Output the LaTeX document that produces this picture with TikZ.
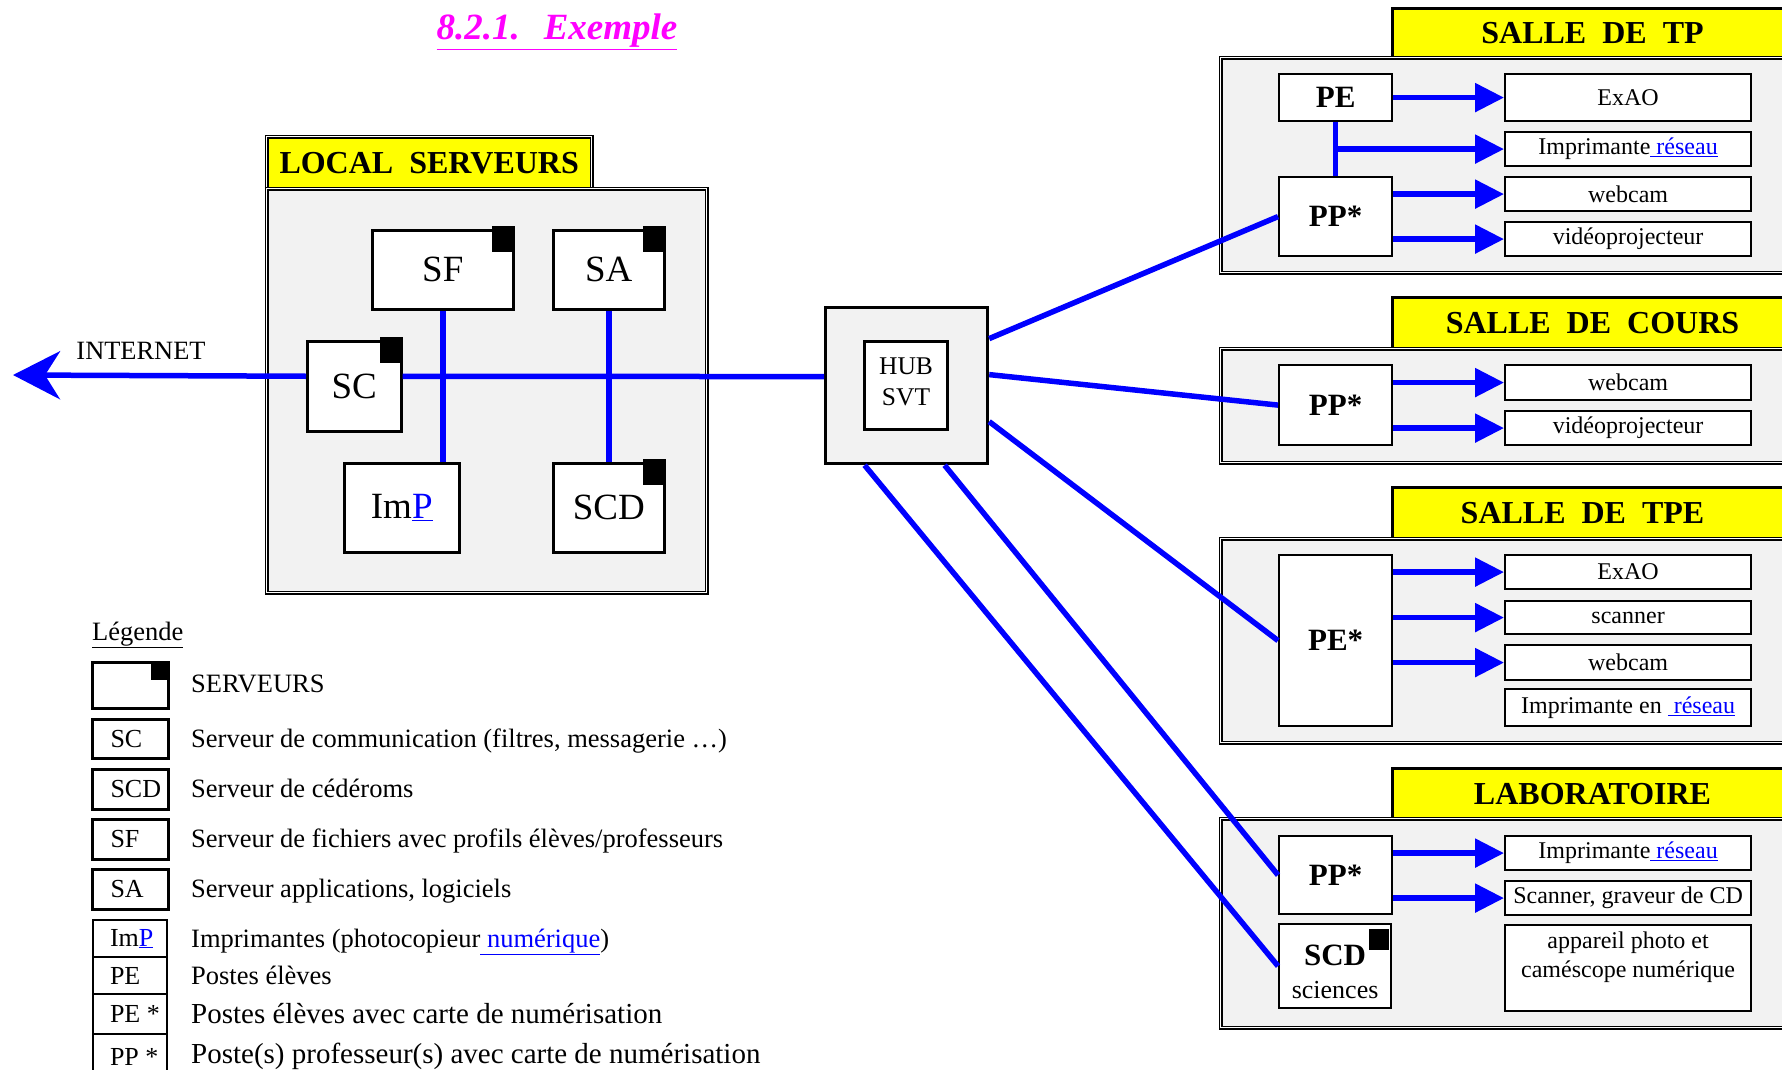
\documentclass[tikz,border=0pt]{standalone}
\usepackage{fontspec}
\setmainfont{Liberation Serif}
\usetikzlibrary{arrows.meta,positioning,calc}

\definecolor{mygray}{rgb}{0.949,0.949,0.949}
\definecolor{myyellow}{rgb}{1.0,1.0,0.0}
\definecolor{myblue}{rgb}{0.0,0.0,1.0}
\definecolor{mymagenta}{rgb}{1.0,0.0,1.0}
\newcommand{\LINEPT}{5.5pt}
\newcommand{\fsz}[1]{\fontsize{#1}{#1}\selectfont}
\newcommand{\lien}[1]{{\color{myblue}\underline{#1}}}
\newcommand{\lgl}[1]{\makebox[40pt][l]{#1}}
\newcommand{\srvtag}[1]{\fill ([yshift=3pt]#1.north east) rectangle ++(-23,26);}

\tikzset{
	bus/.style={draw=myblue, line width=\LINEPT},
	busarrow/.style={bus, -{Triangle[length=29pt,width=28pt]}},
	roomframe/.style={draw, fill=mygray, line width=1.4pt, double=white, double distance=1pt, anchor=north west, inner sep=0pt},
	header/.style={draw, fill=myyellow, line width=3pt, anchor=north west, inner sep=0pt, minimum width=400pt, font=\fsz{32}\bfseries},
	srv/.style={draw, fill=white, line width=2.5pt, anchor=north west, inner sep=0pt, font=\fsz{37}},
	poste/.style={draw, fill=white, line width=2.2pt, anchor=north west, inner sep=0pt, minimum width=113pt, font=\fsz{31}\bfseries},
	periph/.style={draw, fill=white, line width=2.2pt, anchor=north west, inner sep=0pt, minimum width=246pt, font=\fsz{24}},
	legbox/.style={draw, fill=white, line width=3pt, anchor=north west, inner sep=0pt, minimum width=76pt, font=\fsz{26}},
	legstack/.style={legbox, line width=2pt, minimum width=74pt},
	legtext/.style={anchor=base west, inner sep=0pt, font=\fsz{26.5}},
}

\begin{document}
\begin{tikzpicture}[x=1pt,y=-1pt]
	\useasboundingbox (0,0) rectangle (1782,1070);

	%% titre
	\node[anchor=base, font=\fsz{37}\bfseries\itshape, text=mymagenta] (titre) at (557,40) {\underline{8.2.1.\hspace{24pt}Exemple}};

	%% local serveurs
	\node[roomframe, fill=myyellow, minimum width=325pt, minimum height=52pt, font=\fsz{32}\bfseries] (lsHead) at (266,136) {LOCAL~~SERVEURS};
	\node[roomframe, minimum width=440pt, minimum height=404pt] (lsRoom) at (266,188) {};

	\node[srv, minimum width=141pt, minimum height=79pt] (SF) at (371,229) {SF};
	\node[srv, minimum width=111pt, minimum height=79pt] (SA) at (552,229) {SA};
	\node[srv, minimum width=94pt, minimum height=90pt] (SC) at (306,340) {SC};
	\node[srv, minimum width=115pt, minimum height=89pt] (ImP) at (343,462) {Im\lien{P}};
	\node[srv, minimum width=111pt, minimum height=89pt] (SCD) at (552,462) {SCD};
	\srvtag{SF} \srvtag{SA} \srvtag{SC} \srvtag{SCD}

	\coordinate (inet) at (13,375);
	\node[anchor=base, font=\fsz{26.4}] (inetText) at (141,359) {INTERNET};

	%% hub
	\node[draw, fill=mygray, line width=3.2pt, anchor=north west, minimum width=162pt, minimum height=156pt, inner sep=0pt] (hubO) at (824,306) {};
	\node[draw, fill=white, line width=3pt, anchor=north west, minimum width=83pt, minimum height=88pt, inner sep=0pt, align=center, font=\fontsize{25.5}{31}\selectfont] (hubI) at (863,340) {HUB\\SVT\rule[-8pt]{0pt}{0pt}};

	%% salle de TP
	\node[header, minimum height=50pt] (tpHead) at (1391,7) {SALLE~~DE~~TP};
	\node[roomframe, minimum width=580pt, minimum height=215pt] (tpRoom) at (1220,57) {};
	\node[poste, minimum height=47pt] (tpPE) at (1278,73) {PE};
	\node[poste, minimum height=79pt] (tpPP) at (1278,176) {PP*};
	\node[periph, minimum height=47pt] (tpExao) at (1504,73) {ExAO};
	\node[periph, minimum height=34pt] (tpImpr) at (1504,131) {Imprimante\lien{\ réseau}};
	\node[periph, minimum height=34pt] (tpWeb) at (1504,176) {webcam};
	\node[periph, minimum height=34pt] (tpVideo) at (1504,221) {vidéoprojecteur};

	%% salle de cours
	\node[header, minimum height=52pt] (crHead) at (1391,296) {SALLE~~DE~~COURS};
	\node[roomframe, minimum width=580pt, minimum height=114pt] (crRoom) at (1220,348) {};
	\node[poste, minimum height=80pt] (crPP) at (1278,364) {PP*};
	\node[periph, minimum height=35pt] (crWeb) at (1504,364) {webcam};
	\node[periph, minimum height=34pt] (crVideo) at (1504,410) {vidéoprojecteur};

	%% salle de TPE
	\node[header, minimum height=52pt] (tpeHead) at (1391,486) {SALLE~~DE~~TPE\hspace*{20pt}};
	\node[roomframe, minimum width=580pt, minimum height=204pt] (tpeRoom) at (1220,538) {};
	\node[poste, minimum height=171pt] (tpePE) at (1278,554) {PE*};
	\node[periph, minimum height=34pt] (tpeExao) at (1504,554) {ExAO};
	\node[periph, minimum height=33pt] (tpeScan) at (1504,600) {scanner};
	\node[periph, minimum height=35pt] (tpeWeb) at (1504,644) {webcam};
	\node[periph, minimum height=37pt] (tpeImpr) at (1504,688) {Imprimante en \lien{\ réseau}};

	%% laboratoire
	\node[header, minimum height=51pt] (labHead) at (1391,767) {LABORATOIRE};
	\node[roomframe, minimum width=580pt, minimum height=209pt] (labRoom) at (1220,818) {};
	\node[poste, minimum height=78pt] (labPP) at (1278,835) {PP*};
	\node[poste, minimum width=112pt, minimum height=84pt, align=center] (labSCD) at (1278,923) {\rule{0pt}{33pt}SCD\\[2pt]{\fsz{26}\mdseries sciences}};
	\fill ([xshift=-3pt,yshift=-6pt]labSCD.north east) rectangle ++(-20,21);
	\node[periph, minimum height=34pt] (labImpr) at (1504,835) {Imprimante\lien{\ réseau}};
	\node[periph, minimum height=34pt] (labScan) at (1504,880) {Scanner, graveur de CD};
	\node[periph, minimum height=86pt, label={[anchor=north, align=center, yshift=-4pt, font=\fontsize{24}{29}\selectfont]north:appareil photo et\\caméscope numérique}] (labPhoto) at (1504,924) {};

	%% liaisons
	\draw[bus] ([yshift=9pt]hubO.west) -- ([yshift=10pt]SC.east);
	\draw[bus,-{Stealth[length=47pt,width=48pt,inset=15pt]}] ([yshift=10pt]SC.west) -- (inet);
	\draw[bus] (SF.south) -- (SF.south |- ImP.north);
	\draw[bus] (SA.south) -- (SCD.north);

	\draw[bus] ([yshift=47pt]hubO.east) -- (tpPP.west);
	\draw[bus] ([yshift=11pt]hubO.east) -- (crPP.west);
	\draw[bus] ([yshift=-36pt]hubO.east) -- (tpePE.west);
	\draw[bus] ([xshift=38pt]hubO.south) -- (labPP.west);
	\draw[bus] ([xshift=-42pt]hubO.south) -- (labSCD.west);

	\draw[busarrow] (tpPE.east) -- (tpExao.west);
	\draw[bus] (tpPE.south) -- (tpPP.north);
	\draw[busarrow] (tpPE.south |- tpImpr.west) -- (tpImpr.west);
	\draw[busarrow] (tpPP.east |- tpWeb.west) -- (tpWeb.west);
	\draw[busarrow] (tpPP.east |- tpVideo.west) -- (tpVideo.west);

	\draw[busarrow] (crPP.east |- crWeb.west) -- (crWeb.west);
	\draw[busarrow] (crPP.east |- crVideo.west) -- (crVideo.west);

	\draw[busarrow] (tpePE.east |- tpeExao.west) -- (tpeExao.west);
	\draw[busarrow] (tpePE.east |- tpeScan.west) -- (tpeScan.west);
	\draw[busarrow] (tpePE.east |- tpeWeb.west) -- (tpeWeb.west);

	\draw[busarrow] (labPP.east |- labImpr.west) -- (labImpr.west);
	\draw[busarrow] (labPP.east |- labScan.west) -- (labScan.west);

	%% legende
	\node[anchor=base west, inner sep=0pt, font=\fsz{26.5}] (legTitre) at (92,640) {\underline{Légende}};
	\node[legbox, minimum height=46pt] (lgSrv) at (91,661) {};
	\fill (lgSrv.north east) rectangle ++(-19,19);
	\node[legbox, minimum height=39pt] (lgSC) at (91,718) {\lgl{SC}};
	\node[legbox, minimum height=40pt] (lgSCD) at (91,768) {\lgl{SCD}};
	\node[legbox, minimum height=40pt] (lgSF) at (91,818) {\lgl{SF}};
	\node[legbox, minimum height=40pt] (lgSA) at (91,868) {\lgl{SA}};
	\node[legstack, minimum height=37pt] (lgImP) at (92,919) {\lgl{Im\lien{P}}};
	\node[legstack, minimum height=37pt] (lgPE) at (92,956) {\lgl{PE}};
	\node[legstack, minimum height=40pt] (lgPEs) at (92,993) {\lgl{PE *}};
	\node[legstack, minimum height=45pt] (lgPPs) at (92,1033) {\lgl{PP *}};

	\node[legtext] (dSrv) at (191,692) {SERVEURS};
	\node[legtext] (dSC) at (191,747) {Serveur de communication (filtres, messagerie …)};
	\node[legtext] (dSCD) at (191,797) {Serveur de cédéroms};
	\node[legtext] (dSF) at (191,847) {Serveur de fichiers avec profils élèves/professeurs};
	\node[legtext] (dSA) at (191,897) {Serveur applications, logiciels};
	\node[legtext] (dImP) at (191,947) {Imprimantes (photocopieur\lien{\ numérique})};
	\node[legtext] (dPE) at (191,984) {Postes élèves};
	\node[legtext, font=\fsz{29}] (dPEs) at (191,1023) {Postes élèves avec carte de numérisation};
	\node[legtext, font=\fsz{29}] (dPPs) at (191,1063) {Poste(s) professeur(s) avec carte de numérisation};
\end{tikzpicture}
\end{document}
